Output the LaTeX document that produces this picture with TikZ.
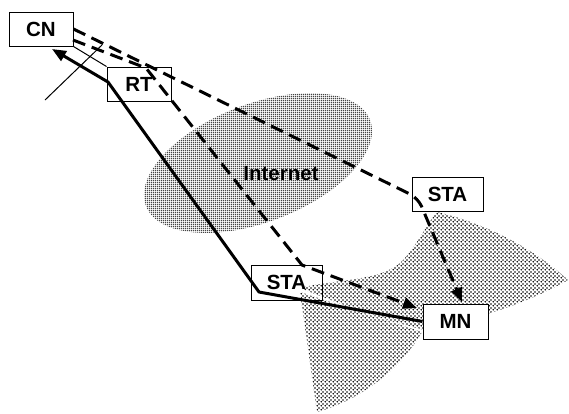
\documentclass[tikz,border=0pt]{standalone}
\usepackage{fontspec}
\setmainfont{Liberation Sans}
\usetikzlibrary{arrows.meta,patterns.meta}

% dense square stipple for the Internet cloud
\pgfdeclarepattern{
  name=netdots, type=uncolored,
  bottom left={\pgfpoint{-1.1pt}{-1.1pt}}, top right={\pgfpoint{1.1pt}{1.1pt}},
  tile size={\pgfpoint{2.2pt}{2.2pt}},
  code={\pgfpathcircle{\pgfpointorigin}{0.85pt}\pgfusepath{fill}}
}
% lighter staggered stipple for radio coverage
\pgfdeclarepattern{
  name=celldots, type=uncolored,
  bottom left={\pgfpoint{-1.5pt}{-1.5pt}}, top right={\pgfpoint{2.7pt}{2.7pt}},
  tile size={\pgfpoint{4.2pt}{4.2pt}},
  code={\pgfpathcircle{\pgfpointorigin}{1pt}\pgfpathcircle{\pgfpoint{2.1pt}{2.1pt}}{1pt}\pgfusepath{fill}}
}

\begin{document}
\begin{tikzpicture}[x=1pt,y=-1pt,
  label font/.style={font=\fontsize{20.5}{24}\selectfont\bfseries},
  box/.style={draw, line width=1pt, inner sep=0pt, minimum height=34pt, label font},
  route/.style={line width=3pt, line join=round},
  tunnel/.style={line width=3pt, dash pattern=on 13pt off 7pt},
  tip/.style={-{Triangle[length=14pt,width=11pt]}},
  hairline/.style={line width=1pt},
  coverage/.style={pattern=celldots, pattern color=black}
]
\useasboundingbox (0,0) rectangle (569,413);

% radio coverage of the two access points
\path[coverage] (300,292) -- (317,412) .. controls (360,400) and (400,370) .. (422,332) -- cycle;
\path[coverage] (300,288) .. controls (340,278) and (385,282) .. (405,258)
  .. controls (420,240) and (428,222) .. (437,212)
  .. controls (480,222) and (530,245) .. (568,280)
  .. controls (540,296) and (500,312) .. (470,318) -- (425,330)
  .. controls (380,320) and (330,300) .. cycle;

% the Internet
\path[pattern=netdots, pattern color=black, rotate around={21:(258,163)}]
  (258,163) ellipse [x radius=120pt, y radius=59pt];
\node[label font] (net) at (281,174) {Internet};

% hosts and routers
\node[box, fill=white, minimum width=64pt] (cn) at (41,29) {CN};
\node[box, minimum width=64pt] (rt) at (139,84) {RT};
\node[box, minimum width=71pt] (sta1) at (447.5,194) {STA};
\node[box, minimum width=71pt, minimum height=35pt] (sta2) at (286.5,282.5) {STA};
\node[box, fill=white, minimum width=65pt, minimum height=35pt] (mn) at (455.5,321.5) {MN};

% bend points of the routes
\coordinate (sbend) at (259,292);
\coordinate (rbend) at (108,82);
\coordinate (cntip) at (52,49);
\coordinate (ubend) at (418,198);
\coordinate (utip) at (462,302);
\coordinate (lstart) at (73,40);
\coordinate (lbend1) at (146,68);
\coordinate (lbend2) at (302,265);
\coordinate (ltip) at (417,308);
\coordinate (p1) at (45,100);
\coordinate (p2) at (102,45);

% reverse route MN -> STA -> RT -> CN
\draw[route, tip] (mn.west) -- (sbend) -- (rbend) -- (cntip);

% forward tunnels CN -> STA -> MN
\draw[tunnel, tip, rounded corners=9pt] (cn.east) -- (ubend) -- (utip);
\draw[tunnel, tip] (lstart) -- (lbend1) -- (lbend2) -- (ltip);

% CN -- RT link and pointer
\draw[hairline] (cn.south east) -- (rt.north west);
\draw[hairline] (p1) -- (p2);
\end{tikzpicture}
\end{document}
